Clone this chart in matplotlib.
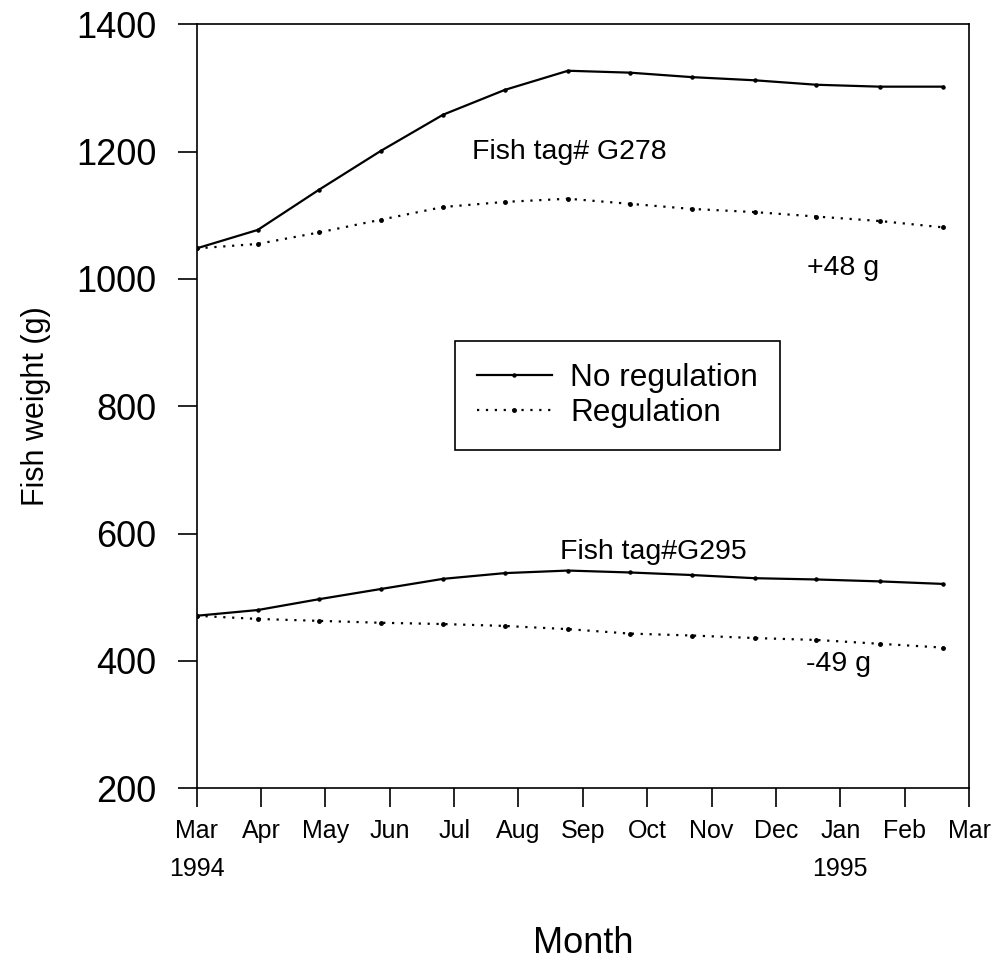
import numpy as np
import matplotlib
matplotlib.use("Agg")
import matplotlib.pyplot as plt
import matplotlib.transforms as mtransforms

plt.rcParams['font.family'] = ['Liberation Sans', 'DejaVu Sans']

# sample times, months after 1 Mar 1994
months = [0, 0.95, 1.9, 2.86, 3.83, 4.79, 5.77, 6.73, 7.69, 8.67, 9.63, 10.61, 11.6]

# fish G278
g278_noreg = [1048, 1077, 1140, 1201, 1258, 1297, 1327, 1324, 1317, 1312, 1305, 1302, 1302]
g278_reg = [1048, 1055, 1073, 1093, 1113, 1121, 1126, 1118, 1110, 1105, 1098, 1091, 1081]

# fish G295
g295_noreg = [471, 480, 497, 513, 529, 538, 542, 539, 535, 530, 528, 525, 521]
g295_reg = [471, 466, 463, 460, 458, 455, 450, 443, 440, 436, 433, 427, 421]

month_labels = ['Mar', 'Apr', 'May', 'Jun', 'Jul', 'Aug', 'Sep', 'Oct',
                'Nov', 'Dec', 'Jan', 'Feb', 'Mar']
y_ticks = [200, 400, 600, 800, 1000, 1200, 1400]

fig = plt.figure(figsize=(9.98, 9.63), dpi=100)
ax = fig.add_axes([0.197, 0.1814, 0.774, 0.7934])

dotted = (0, (1, 3))
ax.plot(months, g278_noreg, color='black', lw=1.6, marker='o', ms=2.2,
        label='No regulation')
ax.plot(months, g278_reg, color='black', lw=1.6, ls=dotted, marker='o', ms=2.5,
        label='Regulation')
ax.plot(months, g295_noreg, color='black', lw=1.6, marker='o', ms=2.2)
ax.plot(months, g295_reg, color='black', lw=1.6, ls=dotted, marker='o', ms=2.5)

ax.set_xlim(0, 12)
ax.set_ylim(200, 1400)
ax.set_xticks(range(13))
ax.set_xticklabels(month_labels, fontsize=18)
ax.set_yticks(y_ticks)
ax.set_yticklabels([str(v) for v in y_ticks], fontsize=26)
ax.tick_params(axis='both', direction='out', length=14, width=1.2, color='black')
ax.tick_params(axis='x', pad=8)
ax.tick_params(axis='y', pad=15)
for s in ax.spines.values():
    s.set_linewidth(1.2)

ax.set_ylabel('Fish weight (g)', fontsize=22, labelpad=18)
ax.set_xlabel('Month', fontsize=26, labelpad=60)

# year labels under the month ticks
trans = mtransforms.blended_transform_factory(ax.transData, ax.transAxes)
ax.text(0, -0.106, '1994', transform=trans, ha='center', va='center', fontsize=18)
ax.text(10, -0.106, '1995', transform=trans, ha='center', va='center', fontsize=18)

ax.text(4.28, 1199, 'Fish tag# G278', fontsize=20.5, va='center')
ax.text(9.49, 1017, '+48 g', fontsize=20.5, va='center')
ax.text(5.64, 571, 'Fish tag#G295', fontsize=20.5, va='center')
ax.text(9.46, 395, '-49 g', fontsize=20.5, va='center')

leg = ax.legend(loc='upper left', bbox_to_anchor=(0.335, 0.585), borderaxespad=0,
                fontsize=22.7, frameon=True, fancybox=False, edgecolor='black',
                framealpha=1, handlelength=2.35, handletextpad=0.6,
                borderpad=0.7, labelspacing=0.15)
leg.get_frame().set_linewidth(1.2)

fig.savefig('out.png', dpi=100)
